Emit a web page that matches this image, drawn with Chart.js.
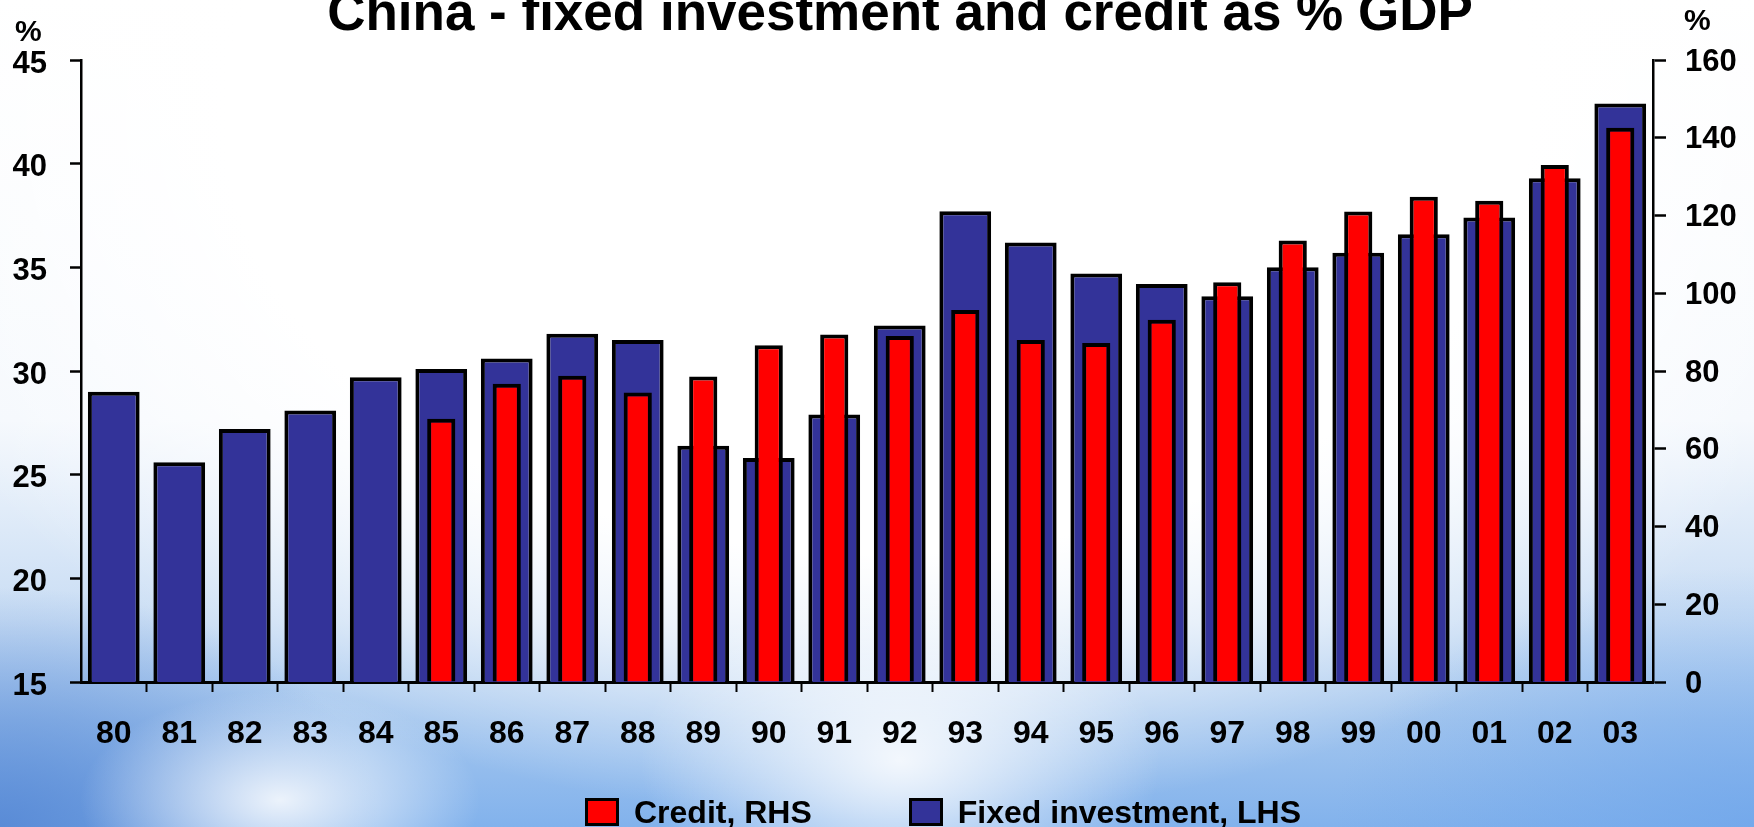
<!DOCTYPE html>
<html>
<head>
<meta charset="utf-8">
<title>China - fixed investment and credit as % GDP</title>
<script src="https://cdn.jsdelivr.net/npm/chart.js@4.4.1/dist/chart.umd.min.js"></script>
<style>
  html, body { margin: 0; padding: 0; }
  body {
    width: 1754px;
    height: 827px;
    overflow: hidden;
    font-family: "Liberation Sans", Arial, sans-serif;
    font-weight: bold;
    color: #000;
  }
  #stage {
    position: relative;
    width: 1754px;
    height: 827px;
    background:
      radial-gradient(ellipse 200px 110px at 280px 800px, rgba(255,255,255,0.85), rgba(255,255,255,0) 100%),
      radial-gradient(ellipse 260px 180px at 900px 760px, rgba(255,255,255,0.85), rgba(255,255,255,0) 100%),
      radial-gradient(ellipse 380px 240px at 0px 827px, rgba(85,135,212,0.9), rgba(85,135,212,0) 100%),
      radial-gradient(ellipse 420px 260px at 1754px 827px, rgba(110,165,235,0.7), rgba(110,165,235,0) 100%),
      radial-gradient(ellipse 1050px 700px at 877px 120px, #ffffff 62%, rgba(255,255,255,0) 100%),
      linear-gradient(to bottom, #ffffff 0px, #f4f8fd 420px, #c9ddf4 620px, #a2c5ee 720px, #82b2ec 827px);
  }
  #chart { position: absolute; left: 0; top: 0; }
  .title {
    position: absolute;
    left: 0;
    width: 1800px;
    top: -15px;
    text-align: center;
    font-size: 53px;
    line-height: 53px;
    white-space: nowrap;
  }
  .unit {
    position: absolute;
    font-size: 30px;
    line-height: 30px;
  }
  #legend {
    position: absolute;
    left: 585px;
    top: 796px;
    display: flex;
    font-size: 32px;
    line-height: 32px;
    white-space: nowrap;
  }
  #legend .item { display: flex; align-items: flex-start; margin-right: 97px; }
  #legend .box {
    width: 34px;
    height: 28px;
    margin-top: 2px;
    margin-right: 15px;
    box-sizing: border-box;
    border: 3px solid #000;
  }
</style>
</head>
<body>
<div id="stage">
  <canvas id="chart" width="1754" height="827"></canvas>
  <div class="title">China - fixed investment and credit as % GDP</div>
  <div class="unit" style="left:15px;top:16px;">%</div>
  <div class="unit" style="left:1684px;top:5px;">%</div>
  <div id="legend"></div>
</div>
<script>
const years = ['80', '81', '82', '83', '84', '85', '86', '87', '88', '89', '90', '91',
               '92', '93', '94', '95', '96', '97', '98', '99', '00', '01', '02', '03'];

// fixed investment, % of GDP (left axis)
const fixedInvestment = [29.0, 25.6, 27.2, 28.1, 29.7, 30.1, 30.6, 31.8, 31.5, 26.4, 25.8, 27.9,
                         32.2, 37.7, 36.2, 34.7, 34.2, 33.6, 35.0, 35.7, 36.6, 37.4, 39.3, 42.9];

// credit, % of GDP (right axis), no data before 1985
const credit = [null, null, null, null, null, 67.7, 76.7, 78.8, 74.5, 78.6, 86.6, 89.4,
                89.0, 95.7, 88.0, 87.2, 93.2, 102.8, 113.6, 121.0, 124.8, 123.8, 133.0, 142.6];

const lhsRange = [15, 45, 5];
const rhsRange = [0, 160, 20];

Chart.defaults.font.family = '"Liberation Sans", Arial, sans-serif';
Chart.defaults.color = '#000';

const tickFont = { size: 31, weight: 'bold' };

const chart = new Chart(document.getElementById('chart'), {
  type: 'bar',
  data: {
    labels: years,
    datasets: [
      {
        label: 'Credit, RHS',
        data: credit,
        yAxisID: 'yRight',
        backgroundColor: '#ff0000',
        borderColor: '#000',
        borderWidth: 4,
        borderSkipped: 'start',
        grouped: false,
        categoryPercentage: 1,
        barPercentage: 0.43,
      },
      {
        label: 'Fixed investment, LHS',
        data: fixedInvestment,
        yAxisID: 'yLeft',
        backgroundColor: '#333399',
        borderColor: '#000',
        borderWidth: 4,
        borderSkipped: 'start',
        grouped: false,
        categoryPercentage: 1,
        barPercentage: 0.79,
      },
    ],
  },
  options: {
    responsive: false,
    animation: false,
    layout: { padding: { top: 60, left: 0, right: 0, bottom: 0 } },
    plugins: {
      legend: { display: false },
      title: { display: false },
      tooltip: { enabled: false },
    },
    scales: {
      x: {
        offset: true,
        grid: {
          offset: true,
          drawOnChartArea: false,
          tickLength: 10,
          tickWidth: 2,
          // no tick marks under the two value axes
          tickColor: (c) => (c.index === 0 || c.index === undefined ? 'rgba(0,0,0,0)' : '#000'),
        },
        border: { color: '#000', width: 3 },
        ticks: {
          font: { size: 32, weight: 'bold' },
          padding: 23,
          autoSkip: false,
          maxRotation: 0,
        },
        afterFit: (s) => { s.height = 145; },
      },
      yLeft: {
        position: 'left',
        min: lhsRange[0],
        max: lhsRange[1],
        grid: { drawOnChartArea: false, tickLength: 11, tickWidth: 2.5, tickColor: '#000' },
        border: { color: '#000', width: 2.5 },
        ticks: { stepSize: lhsRange[2], font: tickFont, padding: 23, labelOffset: 4 },
        afterFit: (s) => { s.width = 81; },
      },
      yRight: {
        position: 'right',
        min: rhsRange[0],
        max: rhsRange[1],
        grid: { drawOnChartArea: false, tickLength: 13, tickWidth: 2.5, tickColor: '#000' },
        border: { color: '#000', width: 2.5 },
        ticks: { stepSize: rhsRange[2], font: tickFont, padding: 19, labelOffset: 2 },
        afterFit: (s) => { s.width = 101; },
      },
    },
  },
});

// legend built from the chart's own datasets
const legend = document.getElementById('legend');
chart.data.datasets.forEach((ds) => {
  const item = document.createElement('div');
  item.className = 'item';
  const box = document.createElement('span');
  box.className = 'box';
  box.style.background = ds.backgroundColor;
  const text = document.createElement('span');
  text.textContent = ds.label;
  item.appendChild(box);
  item.appendChild(text);
  legend.appendChild(item);
});
</script>
</body>
</html>
